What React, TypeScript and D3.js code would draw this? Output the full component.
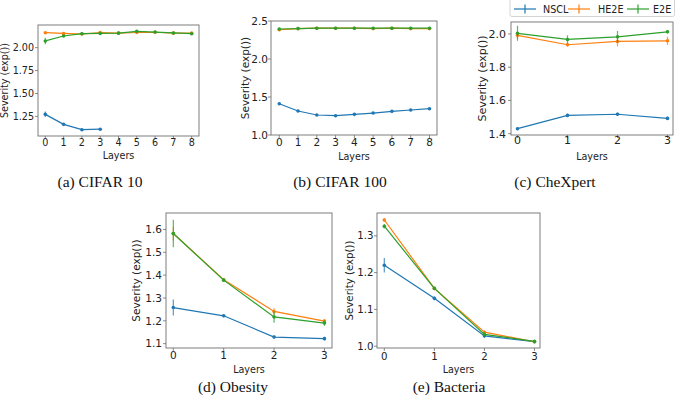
import React from 'react';
import * as d3 from 'd3';

// layer indices
const layers9 = [0, 1, 2, 3, 4, 5, 6, 7, 8];
const layers4 = [0, 1, 2, 3];

const seriesNames = ['NSCL', 'HE2E', 'E2E'];
const colors = ['#1f77b4', '#ff7f0e', '#2ca02c'];

// (a) CIFAR 10
const c10NSCL = [1.272, 1.163, 1.105, 1.11];
const c10NSCLErr = [0.03, 0.01, 0.008, 0.006];
const c10HE2E = [2.163, 2.155, 2.148, 2.165, 2.158, 2.165, 2.168, 2.158, 2.158];
const c10HE2EErr = [0.008, 0.008, 0.006, 0.01, 0.008, 0.01, 0.008, 0.008, 0.008];
const c10E2E = [2.073, 2.127, 2.152, 2.155, 2.158, 2.178, 2.17, 2.16, 2.152];
const c10E2EErr = [0.035, 0.012, 0.01, 0.01, 0.008, 0.008, 0.008, 0.008, 0.008];

// (b) CIFAR 100
const c100NSCL = [1.412, 1.316, 1.263, 1.254, 1.272, 1.289, 1.311, 1.329, 1.346];
const c100NSCLErr = [0.012, 0.01, 0.01, 0.01, 0.01, 0.01, 0.01, 0.01, 0.01];
const c100HE2E = [2.385, 2.4, 2.405, 2.405, 2.405, 2.4, 2.405, 2.4, 2.4];
const c100HE2EErr = [0.01, 0.008, 0.008, 0.008, 0.008, 0.008, 0.008, 0.008, 0.008];
const c100E2E = [2.395, 2.4, 2.405, 2.405, 2.405, 2.405, 2.405, 2.405, 2.405];
const c100E2EErr = [0.008, 0.008, 0.008, 0.008, 0.008, 0.008, 0.008, 0.008, 0.008];

// (c) CheXpert
const chxNSCL = [1.43, 1.51, 1.517, 1.492];
const chxNSCLErr = [0.008, 0.01, 0.01, 0.01];
const chxHE2E = [1.992, 1.935, 1.955, 1.959];
const chxHE2EErr = [0.02, 0.01, 0.03, 0.025];
const chxE2E = [2.004, 1.967, 1.983, 2.013];
const chxE2EErr = [0.045, 0.025, 0.035, 0.01];

// (d) Obesity
const obNSCL = [1.258, 1.222, 1.129, 1.122];
const obNSCLErr = [0.035, 0.006, 0.008, 0.008];
const obHE2E = [1.582, 1.38, 1.241, 1.199];
const obHE2EErr = [0.03, 0.005, 0.015, 0.008];
const obE2E = [1.582, 1.378, 1.217, 1.19];
const obE2EErr = [0.06, 0.005, 0.025, 0.012];

// (e) Bacteria
const bacNSCL = [1.22, 1.13, 1.028, 1.012];
const bacNSCLErr = [0.02, 0.005, 0.005, 0.003];
const bacHE2E = [1.343, 1.157, 1.038, 1.012];
const bacHE2EErr = [0.004, 0.004, 0.004, 0.003];
const bacE2E = [1.326, 1.157, 1.032, 1.013];
const bacE2EErr = [0.006, 0.004, 0.005, 0.003];

const yTicksA = [1.25, 1.5, 1.75, 2.0];
const yTicksB = [1.0, 1.5, 2.0, 2.5];
const yTicksC = [1.4, 1.6, 1.8, 2.0];
const yTicksD = [1.1, 1.2, 1.3, 1.4, 1.5, 1.6];
const yTicksE = [1.0, 1.1, 1.2, 1.3];

const panels = [
  {
    caption: '(a) CIFAR 10', capX: 100, capY: 186.5,
    box: [38, 25, 199, 136], xd: [-0.4, 8.4], yd: [1.036, 2.247],
    xt: layers9, yt: yTicksA, fmt: '.2f', fs: 9.6, tickGap: 4, xtY: 146, xlY: 159, ylX: 5,
    series: [
      { x: layers4, y: c10NSCL, e: c10NSCLErr },
      { x: layers9, y: c10HE2E, e: c10HE2EErr },
      { x: layers9, y: c10E2E, e: c10E2EErr },
    ],
  },
  {
    caption: '(b) CIFAR 100', capX: 340, capY: 186.5,
    box: [271, 21, 437, 135], xd: [-0.44, 8.4], yd: [1.0, 2.5],
    xt: layers9, yt: yTicksB, fmt: '.1f', fs: 10.5, tickGap: 3, xtY: 145.5, xlY: 160, ylX: 245,
    series: [
      { x: layers9, y: c100NSCL, e: c100NSCLErr },
      { x: layers9, y: c100HE2E, e: c100HE2EErr },
      { x: layers9, y: c100E2E, e: c100E2EErr },
    ],
  },
  {
    caption: '(c) CheXpert', capX: 555, capY: 186.5,
    box: [511, 22, 673, 135], xd: [-0.13, 3.11], yd: [1.392, 2.072],
    xt: layers4, yt: yTicksC, fmt: '.1f', fs: 11, tickGap: 5, xtY: 144, xlY: 160, ylX: 482,
    series: [
      { x: layers4, y: chxNSCL, e: chxNSCLErr },
      { x: layers4, y: chxHE2E, e: chxHE2EErr },
      { x: layers4, y: chxE2E, e: chxE2EErr },
    ],
  },
  {
    caption: '(d) Obesity', capX: 233, capY: 391.5,
    box: [166, 213, 332, 348], xd: [-0.145, 3.15], yd: [1.081, 1.672],
    xt: layers4, yt: yTicksD, fmt: '.1f', fs: 10.5, tickGap: 4, xtY: 359, xlY: 372.5, ylX: 136,
    series: [
      { x: layers4, y: obNSCL, e: obNSCLErr },
      { x: layers4, y: obHE2E, e: obHE2EErr },
      { x: layers4, y: obE2E, e: obE2EErr },
    ],
  },
  {
    caption: '(e) Bacteria', capX: 449, capY: 391.5,
    box: [377, 213, 540, 348], xd: [-0.146, 3.11], yd: [0.995, 1.362],
    xt: layers4, yt: yTicksE, fmt: '.1f', fs: 10.2, tickGap: 3.5, xtY: 359.8, xlY: 372.5, ylX: 349,
    series: [
      { x: layers4, y: bacNSCL, e: bacNSCLErr },
      { x: layers4, y: bacHE2E, e: bacHE2EErr },
      { x: layers4, y: bacE2E, e: bacE2EErr },
    ],
  },
];

const sans = 'DejaVu Sans, sans-serif';

const Panel = ({ p }: { p: any }) => {
  const [x0, y0, x1, y1] = p.box;
  const x = d3.scaleLinear().domain(p.xd).range([x0, x1]);
  const y = d3.scaleLinear().domain(p.yd).range([y1, y0]);
  const fmt = d3.format(p.fmt);
  const cy = (y0 + y1) / 2;
  return (
    <g>
      {p.series.map((s: any, si: number) => {
        const pts: [number, number][] = s.x.map((v: number, i: number) => [x(v), y(s.y[i])]);
        const path = d3.line()(pts);
        return (
          <g key={si}>
            {s.x.map((v: number, i: number) => (
              <line key={i} x1={x(v)} x2={x(v)} y1={y(s.y[i] - s.e[i])} y2={y(s.y[i] + s.e[i])}
                stroke={colors[si]} strokeWidth={1.2} opacity={0.75} />
            ))}
            <path d={path || ''} fill="none" stroke={colors[si]} strokeWidth={1.2} />
            {pts.map((pt, i) => (
              <circle key={i} cx={pt[0]} cy={pt[1]} r={1.8} fill={colors[si]} />
            ))}
          </g>
        );
      })}
      <rect x={x0} y={y0} width={x1 - x0} height={y1 - y0} fill="none" stroke="#6f6f6f" strokeWidth={0.9} />
      {p.xt.map((t: number) => (
        <g key={'x' + t}>
          <line x1={x(t)} x2={x(t)} y1={y1} y2={y1 + 3} stroke="#6f6f6f" strokeWidth={0.8} />
          <text x={x(t)} y={p.xtY} textAnchor="middle" fontSize={p.fs} fontFamily={sans} fill="#222">{t}</text>
        </g>
      ))}
      {p.yt.map((t: number) => (
        <g key={'y' + t}>
          <line x1={x0 - 3} x2={x0} y1={y(t)} y2={y(t)} stroke="#6f6f6f" strokeWidth={0.8} />
          <text x={x0 - p.tickGap} y={y(t) + p.fs * 0.36} textAnchor="end" fontSize={p.fs} fontFamily={sans} fill="#222">{fmt(t)}</text>
        </g>
      ))}
      <text x={(x0 + x1) / 2} y={p.xlY} textAnchor="middle" fontSize={9.6} fontFamily={sans} fill="#222">Layers</text>
      <text transform={`translate(${p.ylX + p.fs * 0.36},${cy}) rotate(-90)`} textAnchor="middle" fontSize={p.fs} fontFamily={sans} fill="#222">Severity (exp())</text>
      <text x={p.capX} y={p.capY} textAnchor="middle" fontSize={15.5} fontFamily="Liberation Serif, serif" fill="#111">{p.caption}</text>
    </g>
  );
};

const legendX = [514, 568, 627];
const legendTextX = [543, 598, 653];

const App = () => (
  <svg width={676} height={403} style={{ position: 'absolute', left: 0, top: 0, background: '#fff' }}>
    {panels.map((p, i) => <Panel key={i} p={p} />)}
    <rect x={510} y={-3} width={164.5} height={19.5} rx={2} fill="#fff" stroke="#cfcfcf" strokeWidth={0.9} />
    {seriesNames.map((n, i) => (
      <g key={n}>
        <line x1={legendX[i]} x2={legendX[i] + 22} y1={9} y2={9} stroke={colors[i]} strokeWidth={1.2} />
        <line x1={legendX[i] + 11} x2={legendX[i] + 11} y1={4.5} y2={13.5} stroke={colors[i]} strokeWidth={1.2} />
        <text x={legendTextX[i]} y={12.5} fontSize={9.6} fontFamily={sans} fill="#222">{n}</text>
      </g>
    ))}
  </svg>
);

export default App;
